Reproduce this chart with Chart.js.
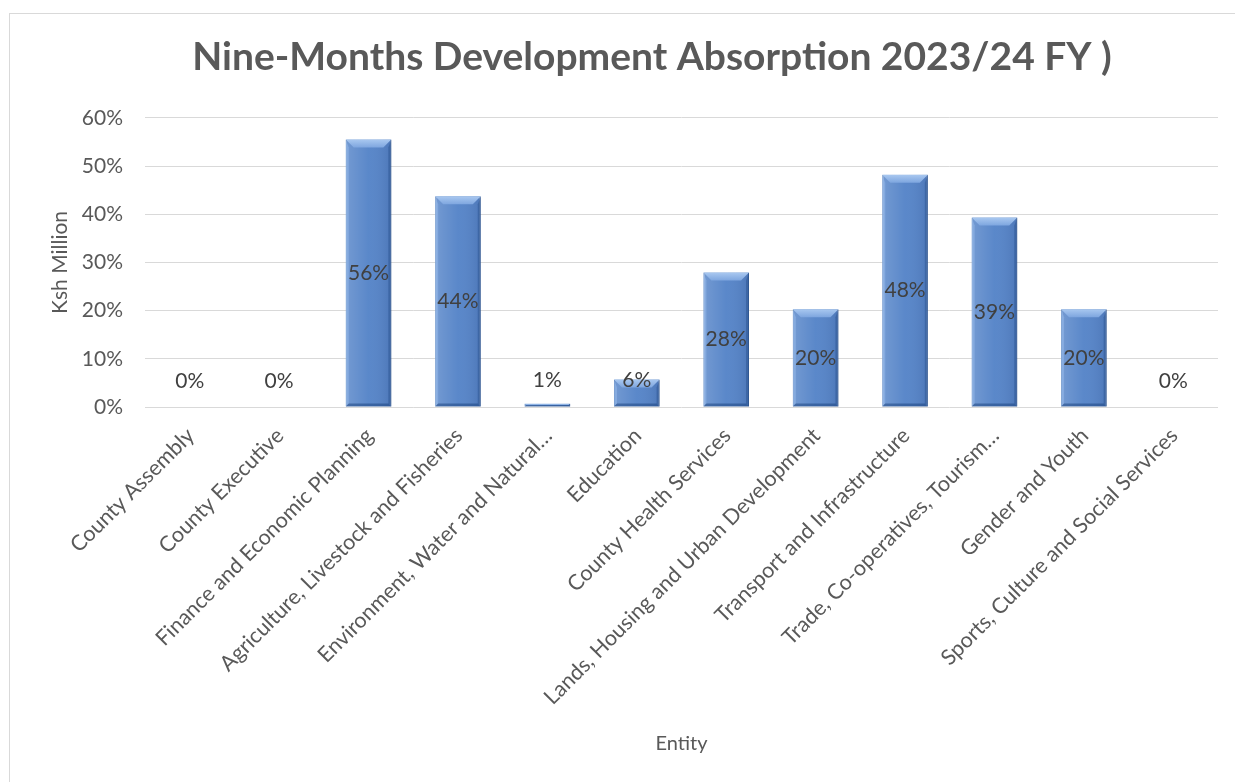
<!DOCTYPE html>
<html>
<head>
<meta charset="utf-8">
<script src="https://cdn.jsdelivr.net/npm/chart.js@4.4.1/dist/chart.umd.min.js"></script>
<style>
  html, body { margin: 0; padding: 0; background: #fff; overflow: hidden; }
  #frame {
    position: absolute; left: 9px; top: 13px;
    width: 1284px; height: 790px;
    border: 1px solid #d9d9d9; background: #fff;
  }
  #chart { display: block; }
</style>
</head>
<body>
<div id="frame"><canvas id="chart" width="1284" height="768"></canvas></div>
<script>
// Entities (Excel truncated two of the long names with an ellipsis)
const entities = [
  'County Assembly',
  'County Executive',
  'Finance and Economic Planning',
  'Agriculture, Livestock and Fisheries',
  'Environment, Water and Natural…',
  'Education',
  'County Health Services',
  'Lands, Housing and Urban Development',
  'Transport and Infrastructure',
  'Trade, Co-operatives, Tourism…',
  'Gender and Youth',
  'Sports, Culture and Social Services'
]

// Absorption in percent
const absorption = [0, 0, 55.5, 43.7, 0.7, 5.7, 27.9, 20.3, 48.2, 39.3, 20.3, 0]

const yTicks = [0, 10, 20, 30, 40, 50, 60]

const FONT = 'Lato, "Open Sans", "Liberation Sans", sans-serif'
const GREY = '#595959'

// Bevel look of the Excel bars, drawn over each bar the library placed
const bevelPlugin = {
  id: 'bevel',
  afterDatasetsDraw(chart) {
    const ctx = chart.ctx
    chart.getDatasetMeta(0).data.forEach(bar => {
      const h = bar.base - bar.y
      if (h < 1) return
      const l = bar.x - bar.width / 2
      const r = bar.x + bar.width / 2
      const t = bar.y
      const b = bar.base
      const bv = Math.min(8, h / 2)
      const sv = Math.min(3, h / 2)
      ctx.save()
      // side shading
      const g = ctx.createLinearGradient(l, 0, r, 0)
      g.addColorStop(0, 'rgba(255,255,255,0.18)')
      g.addColorStop(0.5, 'rgba(255,255,255,0.03)')
      g.addColorStop(1, 'rgba(0,0,40,0.10)')
      ctx.fillStyle = g
      ctx.fillRect(l, t, r - l, h)
      // top bevel
      ctx.beginPath()
      ctx.moveTo(l, t)
      ctx.lineTo(r, t)
      ctx.lineTo(r - bv, t + bv)
      ctx.lineTo(l + bv, t + bv)
      ctx.closePath()
      const tg = ctx.createLinearGradient(0, t, 0, t + bv)
      tg.addColorStop(0, '#a9c8f0')
      tg.addColorStop(1, '#7ea6df')
      ctx.fillStyle = tg
      ctx.fill()
      // left bevel
      ctx.beginPath()
      ctx.moveTo(l, t)
      ctx.lineTo(l + sv, t + bv)
      ctx.lineTo(l + sv, b - sv)
      ctx.lineTo(l, b)
      ctx.closePath()
      ctx.fillStyle = 'rgba(150,185,235,0.55)'
      ctx.fill()
      // right bevel
      ctx.beginPath()
      ctx.moveTo(r, t)
      ctx.lineTo(r - sv, t + bv)
      ctx.lineTo(r - sv, b - sv)
      ctx.lineTo(r, b)
      ctx.closePath()
      ctx.fillStyle = 'rgba(40,80,140,0.45)'
      ctx.fill()
      // bottom bevel
      ctx.beginPath()
      ctx.moveTo(l, b)
      ctx.lineTo(r, b)
      ctx.lineTo(r - sv, b - sv)
      ctx.lineTo(l + sv, b - sv)
      ctx.closePath()
      ctx.fillStyle = 'rgba(30,70,130,0.55)'
      ctx.fill()
      ctx.restore()
    })
  }
}

// Percent labels, centred in the bar but kept clear of the axis
const valueLabels = {
  id: 'valueLabels',
  afterDatasetsDraw(chart) {
    const ctx = chart.ctx
    const meta = chart.getDatasetMeta(0)
    ctx.save()
    ctx.font = '21px ' + FONT
    ctx.fillStyle = '#404040'
    ctx.textAlign = 'center'
    ctx.textBaseline = 'middle'
    meta.data.forEach((bar, i) => {
      const y = Math.min((bar.y + bar.base) / 2, bar.base - 26)
      ctx.fillText(Math.round(absorption[i]) + '%', bar.x, y)
    })
    ctx.restore()
  }
}

new Chart(document.getElementById('chart'), {
  type: 'bar',
  data: {
    labels: entities,
    datasets: [{
      label: 'Absorption',
      data: absorption,
      backgroundColor: '#5584c8',
      borderColor: '#3f6aa6',
      borderWidth: 1,
      barPercentage: 0.51,
      categoryPercentage: 1
    }]
  },
  options: {
    responsive: false,
    animation: false,
    devicePixelRatio: 1,
    layout: { padding: 0 },
    plugins: {
      legend: { display: false },
      tooltip: { enabled: false },
      title: {
        display: true,
        text: 'Nine-Months Development Absorption 2023/24 FY )',
        color: GREY,
        font: { family: FONT, size: 39, weight: 'bold' },
        padding: { top: 20, bottom: 37 }
      }
    },
    scales: {
      x: {
        grid: { display: false, drawTicks: false },
        border: { display: false },
        ticks: {
          color: GREY,
          font: { family: FONT, size: 21.5 },
          maxRotation: 45,
          minRotation: 45,
          autoSkip: false,
          padding: 16,
          labelOffset: 1
        },
        title: {
          display: true,
          text: 'Entity',
          color: GREY,
          font: { family: FONT, size: 20 },
          padding: { top: 0, bottom: 26 }
        },
        afterFit(scale) { scale.height = 768 - 393 }
      },
      y: {
        min: 0,
        max: 60,
        afterBuildTicks(scale) { scale.ticks = yTicks.map(v => ({ value: v })) },
        grid: { color: '#d9d9d9', lineWidth: 1, drawTicks: false },
        border: { display: false },
        ticks: {
          color: GREY,
          font: { family: FONT, size: 21 },
          padding: 22,
          callback: v => v + '%'
        },
        title: {
          display: true,
          text: 'Ksh Million',
          color: GREY,
          font: { family: FONT, size: 21 },
          padding: { top: 38, bottom: 0 }
        },
        afterFit(scale) { scale.width = 135 }
      },
      // empty right margin so the title centres on the whole frame, as in Excel
      yRight: {
        axis: 'y',
        position: 'right',
        display: true,
        grid: { display: false, drawTicks: false },
        border: { display: false },
        ticks: { display: false },
        afterFit(scale) { scale.width = 76 }
      }
    }
  },
  plugins: [bevelPlugin, valueLabels]
})
</script>
</body>
</html>
